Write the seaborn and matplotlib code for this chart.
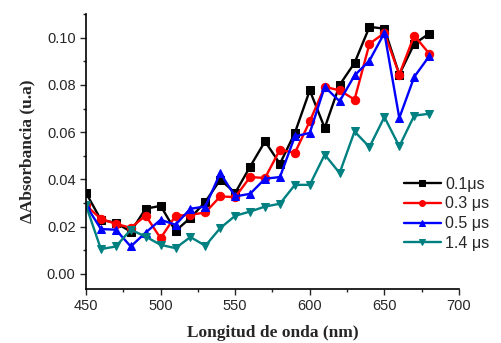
import numpy as np
import pandas as pd
import matplotlib
matplotlib.use("Agg")
import matplotlib.pyplot as plt
import seaborn as sns
from matplotlib.ticker import MultipleLocator

wavelength = [450, 460, 470, 480, 490, 500, 510, 520, 530, 540, 550, 560,
              570, 580, 590, 600, 610, 620, 630, 640, 650, 660, 670, 680]
s01 = [0.0343, 0.0229, 0.0216, 0.0179, 0.0276, 0.0288, 0.0182, 0.0237, 0.0305, 0.0399, 0.0343, 0.0454,
       0.0561, 0.0466, 0.0597, 0.0777, 0.0618, 0.0800, 0.0893, 0.1046, 0.1038, 0.0844, 0.0974, 0.1017]
s03 = [0.0290, 0.0233, 0.0212, 0.0195, 0.0247, 0.0151, 0.0246, 0.0250, 0.0260, 0.0328, 0.0325, 0.0410,
       0.0406, 0.0526, 0.0512, 0.0646, 0.0792, 0.0777, 0.0738, 0.0974, 0.1020, 0.0844, 0.1009, 0.0933]
s05 = [0.0290, 0.0190, 0.0187, 0.0116, 0.0175, 0.0229, 0.0208, 0.0276, 0.0285, 0.0427, 0.0328, 0.0339,
       0.0403, 0.0410, 0.0582, 0.0597, 0.0792, 0.0731, 0.0840, 0.0903, 0.1020, 0.0660, 0.0834, 0.0921]
s14 = [0.0290, 0.0105, 0.0116, 0.0187, 0.0158, 0.0123, 0.0109, 0.0156, 0.0119, 0.0194, 0.0246, 0.0264,
       0.0285, 0.0297, 0.0377, 0.0377, 0.0505, 0.0427, 0.0603, 0.0537, 0.0664, 0.0540, 0.0670, 0.0678]

labels = ["0.1\u03bcs", "0.3 \u03bcs", "0.5 \u03bcs", "1.4 \u03bcs"]
series = [s01, s03, s05, s14]
colors = ["#000000", "#ff0000", "#0000ff", "#008080"]
markers = ["s", "o", "^", "v"]

sns.set_style("ticks")
plt.rcParams["font.family"] = ["Liberation Sans", "DejaVu Sans"]

fig = plt.figure(figsize=(5.02, 3.43), dpi=100)
ax = fig.add_axes([0.1713, 0.1574, 0.743, 0.8016])

for lab, ys, c, m in zip(labels, series, colors, markers):
    df = pd.DataFrame({"x": wavelength, "y": ys})
    sns.lineplot(data=df, x="x", y="y", ax=ax, color=c, marker=m, markersize=6,
                 markeredgecolor=c, linewidth=1.7, label=lab)

ax.set_xlim(450, 700)
ax.set_ylim(-0.0064, 0.110)
ax.xaxis.set_major_locator(MultipleLocator(50))
ax.xaxis.set_minor_locator(MultipleLocator(25))
ax.yaxis.set_major_locator(MultipleLocator(0.02))
ax.yaxis.set_minor_locator(MultipleLocator(0.01))
ax.set_yticks([0, 0.02, 0.04, 0.06, 0.08, 0.10])
ax.set_yticklabels(["0.00", "0.02", "0.04", "0.06", "0.08", "0.10"])
ax.tick_params(axis="both", which="major", direction="out", length=4, width=1, labelsize=10.5)
ax.tick_params(axis="both", which="minor", direction="out", length=2.5, width=1)
sns.despine(ax=ax)
for sp in ["left", "bottom"]:
    ax.spines[sp].set_linewidth(1.2)
    ax.spines[sp].set_color("black")

ax.set_xlabel("Longitud de onda (nm)", fontsize=12.5, fontweight="bold",
              family=["Liberation Serif", "DejaVu Serif"], labelpad=8)
ax.set_ylabel("\u0394Absorbancia (u.a)", fontsize=12.5, fontweight="bold",
              family=["Liberation Serif", "DejaVu Serif"], labelpad=8)

leg = ax.legend(loc="upper left", bbox_to_anchor=(0.776, 0.527), bbox_transform=fig.transFigure,
                frameon=False, fontsize=11.5, handlelength=2.3, handletextpad=0.3,
                labelspacing=0.3, markerscale=0.7)

fig.savefig("out.png", dpi=100)
